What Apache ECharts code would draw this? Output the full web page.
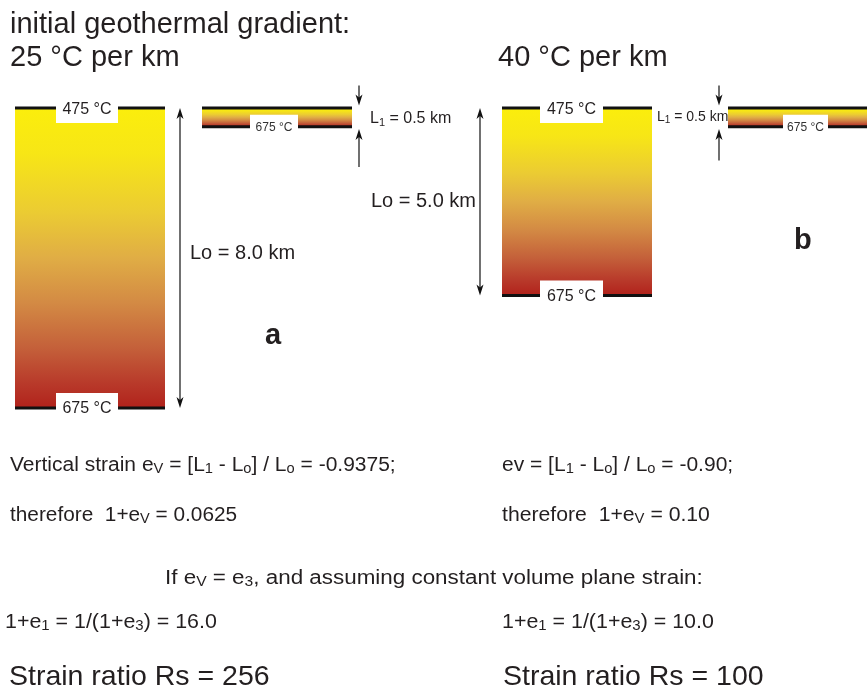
<!DOCTYPE html>
<html>
<head>
<meta charset="utf-8">
<title>Geothermal gradient strain</title>
<script src="https://cdn.jsdelivr.net/npm/echarts@6/dist/echarts.min.js"></script>
<style>
  html, body { margin: 0; padding: 0; background: #fff; }
  #main { width: 867px; height: 692px; }
</style>
</head>
<body>
<div id="main"></div>
<script>
// values
var panels = ['a', 'b'];
var gradients = ['25 °C per km', '40 °C per km'];
var initialThickness = [8.0, 5.0];   // Lo, km
var finalThickness = [0.5, 0.5];     // L1, km
var topTemp = ['475 °C', '475 °C'];
var baseTemp = ['675 °C', '675 °C'];
var verticalStrain = ['-0.9375', '-0.90'];
var stretchV = ['0.0625', '0.10'];
var stretch1 = ['16.0', '10.0'];
var strainRatio = ['256', '100'];

// layout (pixels along the hidden x axis)
var bigX = [[15, 165], [502, 652]];
var thinX = [[202, 352], [728, 885]];
var bigLabelX = [[56, 118], [540, 603]];
var thinLabelX = [[250, 298], [783, 828]];
var loArrowX = [180, 480];
var l1ArrowX = [359, 719];

var FONT = '"Liberation Sans", Arial, Helvetica, sans-serif';
var INK = '#231f20';

var heat = {
  type: 'linear', x: 0, y: 0, x2: 0, y2: 1,
  colorStops: [
    { offset: 0, color: '#fbee0c' },
    { offset: 0.15, color: '#f7e616' },
    { offset: 0.35, color: '#ebcb33' },
    { offset: 0.5, color: '#e0ad45' },
    { offset: 0.65, color: '#d38a44' },
    { offset: 0.8, color: '#c4603a' },
    { offset: 0.92, color: '#b8392a' },
    { offset: 1, color: '#b1221b' }
  ]
};

// blocks: [x0, x1, thickness]
var blocks = [];
var blockMeta = [];
for (var i = 0; i < panels.length; i++) {
  blocks.push([bigX[i][0], bigX[i][1], initialThickness[i]]);
  blockMeta.push({ top: topTemp[i], base: baseTemp[i], lx: bigLabelX[i], big: true });
  blocks.push([thinX[i][0], thinX[i][1], finalThickness[i]]);
  blockMeta.push({ top: '', base: baseTemp[i], lx: thinLabelX[i], big: false });
}

// arrows: [x, fromDepth, toDepth, headAtFrom, headAtTo]
var arrows = [];
for (var j = 0; j < panels.length; j++) {
  arrows.push([loArrowX[j], 0, initialThickness[j], 1, 1]);
  arrows.push([l1ArrowX[j], -0.6, -0.07, 0, 1]);
  arrows.push([l1ArrowX[j], finalThickness[j] + (j === 0 ? 1.07 : 0.9), finalThickness[j] + 0.06, 0, 1]);
}

function renderBlock(params, api) {
  var meta = blockMeta[params.dataIndex];
  var p0 = api.coord([api.value(0), 0]);
  var p1 = api.coord([api.value(1), api.value(2)]);
  var w = p1[0] - p0[0];
  var top = p0[1], bot = p1[1];
  var kids = [
    { type: 'rect', shape: { x: p0[0], y: top, width: w, height: bot - top }, style: { fill: heat } },
    { type: 'rect', shape: { x: p0[0], y: top - 1.5, width: w, height: 3 }, style: { fill: '#111' } },
    { type: 'rect', shape: { x: p0[0], y: bot - 1.5, width: w, height: 3 }, style: { fill: '#111' } }
  ];
  var lx0 = meta.lx[0], lx1 = meta.lx[1], cx = (lx0 + lx1) / 2;
  if (meta.top) {
    kids.push({ type: 'rect', shape: { x: lx0, y: top - 2, width: lx1 - lx0, height: 17 }, style: { fill: '#fff' } });
    kids.push({ type: 'text', style: { text: meta.top, x: cx, y: top + 2, align: 'center', verticalAlign: 'middle',
      font: '16px ' + FONT, fill: INK } });
  }
  if (meta.big) {
    kids.push({ type: 'rect', shape: { x: lx0, y: bot - 15, width: lx1 - lx0, height: 24 }, style: { fill: '#fff' } });
    kids.push({ type: 'text', style: { text: meta.base, x: cx, y: bot + 1, align: 'center', verticalAlign: 'middle',
      font: '16px ' + FONT, fill: INK } });
  } else {
    kids.push({ type: 'rect', shape: { x: lx0, y: bot - 12, width: lx1 - lx0, height: 20 }, style: { fill: '#fff' } });
    kids.push({ type: 'text', style: { text: meta.base, x: cx, y: bot + 1, align: 'center', verticalAlign: 'middle',
      font: '12px ' + FONT, fill: '#333' } });
  }
  return { type: 'group', children: kids };
}

function head(x, y, dir) {
  // dir = 1 pointing down, -1 pointing up
  return { type: 'polygon', shape: { points: [[x, y], [x - 3.5, y - dir * 11], [x, y - dir * 8], [x + 3.5, y - dir * 11]] },
    style: { fill: '#111' } };
}

function renderArrow(params, api) {
  var a = api.coord([api.value(0), api.value(1)]);
  var b = api.coord([api.value(0), api.value(2)]);
  var dir = b[1] > a[1] ? 1 : -1;
  var kids = [{ type: 'line', shape: { x1: a[0], y1: a[1] + (api.value(3) ? dir * 6 : 0), x2: b[0], y2: b[1] - dir * 6 },
    style: { stroke: '#111', lineWidth: 1.2 } }];
  if (api.value(4)) kids.push(head(b[0], b[1], dir));
  if (api.value(3)) kids.push(head(a[0], a[1], -dir));
  return { type: 'group', children: kids };
}

function txt(x, y, s, size, sx, extra) {
  var o = { type: 'text', x: x, y: y, scaleX: sx || 1, style: {
    text: s, font: size + 'px ' + FONT, fill: INK, verticalAlign: 'middle',
    rich: { s: { fontSize: Math.round(size * 0.7), padding: [Math.round(size * 0.45), 0, 0, 0], fontFamily: FONT, fill: INK } }
  } };
  if (extra) for (var k in extra) o.style[k] = extra[k];
  return o;
}

var texts = [
  txt(10, 25, 'initial geothermal gradient:', 29),
  txt(10, 58, gradients[0], 29),
  txt(498, 58, gradients[1], 29),
  txt(370, 119, 'L{s|1} = ' + finalThickness[0].toFixed(1) + ' km', 16),
  txt(657, 117, 'L{s|1} = ' + finalThickness[1].toFixed(1) + ' km', 14),
  txt(190, 253, 'Lo = ' + initialThickness[0].toFixed(1) + ' km', 20),
  txt(476, 201, 'Lo = ' + initialThickness[1].toFixed(1) + ' km', 20, 1, { align: 'right' }),
  txt(265, 336, panels[0], 29, 1, { font: 'bold 29px ' + FONT }),
  txt(794, 241, panels[1], 29, 1, { font: 'bold 29px ' + FONT }),
  txt(10, 465, 'Vertical strain e{s|V} = [L{s|1} - L{s|o}] / L{s|o} = ' + verticalStrain[0] + ';', 20, 1.05),
  txt(10, 515, 'therefore  1+e{s|V} = ' + stretchV[0], 20, 1.04),
  txt(502, 465, 'ev = [L{s|1} - L{s|o}] / L{s|o} = ' + verticalStrain[1] + ';', 20, 1.05),
  txt(502, 515, 'therefore  1+e{s|V} = ' + stretchV[1], 20, 1.06),
  txt(165, 578, 'If e{s|V} = e{s|3}, and assuming constant volume plane strain:', 20, 1.12),
  txt(5, 622, '1+e{s|1} = 1/(1+e{s|3}) = ' + stretch1[0], 20, 1.07),
  txt(502, 622, '1+e{s|1} = 1/(1+e{s|3}) = ' + stretch1[1], 20, 1.07),
  txt(9, 677, 'Strain ratio Rs = ' + strainRatio[0], 28.5),
  txt(503, 677, 'Strain ratio Rs = ' + strainRatio[1], 28.5)
];

var chart = echarts.init(document.getElementById('main'));
chart.setOption({
  backgroundColor: '#fff',
  animation: false,
  grid: { left: 0, right: 0, top: 108, height: 300 },
  xAxis: { type: 'value', min: 0, max: 867, show: false },
  yAxis: { type: 'value', min: 0, max: 8, inverse: true, show: false },
  graphic: texts,
  series: [
    { type: 'custom', renderItem: renderBlock, data: blocks, clip: false, silent: true },
    { type: 'custom', renderItem: renderArrow, data: arrows, clip: false, silent: true }
  ]
});
</script>
</body>
</html>
